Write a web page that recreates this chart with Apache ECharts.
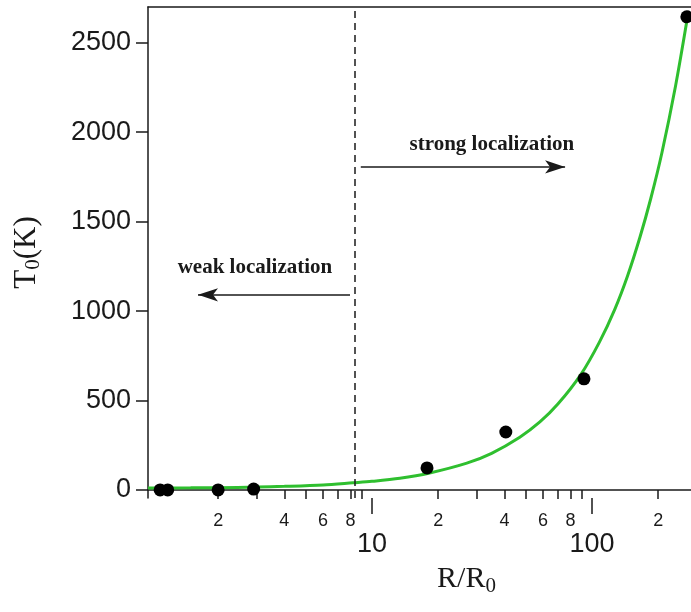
<!DOCTYPE html>
<html>
<head>
<meta charset="utf-8">
<script src="https://cdn.jsdelivr.net/npm/echarts@6/dist/echarts.min.js"></script>
<style>
  html, body { margin: 0; padding: 0; background: #fff; }
  #chart { width: 691px; height: 612px; }
</style>
</head>
<body>
<div id="chart"></div>
<script>
// Measured points: T0 against normalised resistance R/R0
const pointR = [1.09, 1.18, 2.0, 2.9, 17.8, 40.6, 92, 270];
const pointT = [0, 0, 0, 5, 123, 324, 621, 2645];

// Fitted curve, sampled along R/R0
const fitR = [0.96, 1.5, 2, 3, 4, 6, 8.2, 10, 13.4, 18.3, 27, 35, 47, 58, 70, 89, 108, 127, 145, 165, 185, 208, 240, 272];
const fitT = [11, 12, 13, 16, 20, 28, 40, 48, 65, 95, 150, 205, 295, 380, 480, 645, 825, 1010, 1195, 1410, 1628, 1885, 2260, 2645];

// Axis ticks and labels
const yTicks = [0, 500, 1000, 1500, 2000, 2500];
const xMinorTicks = [2, 3, 4, 5, 6, 7, 8, 9, 20, 30, 40, 50, 60, 70, 80, 90, 200];
const xMinorLabels = [2, 4, 6, 8, 20, 40, 60, 80, 200];
const xMajorTicks = [10, 100];

// Regime boundary and annotations
const boundaryR = 8.37;
const strongArrow = [[8.9, 1806], [75.5, 1806]];
const weakArrow = [[7.95, 1091], [1.62, 1091]];
const strongLabel = { text: 'strong localization', at: [35.1, 1930] };
const weakLabel = { text: 'weak localization', at: [2.94, 1242] };

const ink = '#1a1a1a';
const sans = '"Liberation Sans", Arial, sans-serif';
const serif = '"Liberation Serif", "Times New Roman", serif';

const chart = echarts.init(document.getElementById('chart'));

const xRange = { min: 0.96, max: 282 };

chart.setOption({
  animation: false,
  backgroundColor: '#fff',
  grid: { left: 148, top: 7, bottom: 114, right: 0, show: false },
  xAxis: [
    {
      type: 'log', logBase: 10, min: xRange.min, max: xRange.max,
      axisLine: { show: true, lineStyle: { color: ink, width: 1.5 } },
      axisTick: { show: true, customValues: xMinorTicks, length: 9, lineStyle: { color: ink, width: 1.5 } },
      axisLabel: {
        show: true, customValues: xMinorLabels, margin: 14, fontSize: 18,
        fontFamily: sans, color: ink, hideOverlap: false,
        formatter: v => String(Math.round(v)).charAt(0)
      },
      splitLine: { show: false }, minorTick: { show: false }
    },
    {
      type: 'log', logBase: 10, min: xRange.min, max: xRange.max,
      position: 'bottom',
      axisLine: { show: false },
      axisTick: { show: true, customValues: xMajorTicks, length: 16, lineStyle: { color: ink, width: 1.5 } },
      axisLabel: {
        show: true, customValues: xMajorTicks, margin: 33, fontSize: 27,
        fontFamily: sans, color: ink, formatter: v => String(Math.round(v))
      },
      splitLine: { show: false },
      name: '{t|R/R}{s|0}',
      nameLocation: 'middle',
      nameGap: 64,
      nameTextStyle: {
        padding: [0, 0, 0, 94],
        rich: {
          t: { fontFamily: serif, fontSize: 30, color: ink },
          s: { fontFamily: serif, fontSize: 21, color: ink, padding: [14, 0, 0, 0] }
        }
      }
    },
    {
      // frame line along the top of the plot
      type: 'log', logBase: 10, min: xRange.min, max: xRange.max,
      position: 'top',
      axisLine: { show: true, lineStyle: { color: ink, width: 1.5 } },
      axisTick: { show: false },
      axisLabel: { show: false },
      splitLine: { show: false }
    }
  ],
  yAxis: {
    type: 'value', min: -45, max: 2700,
    axisLine: { show: true, lineStyle: { color: ink, width: 1.5 } },
    axisTick: { show: true, customValues: yTicks, length: 12, lineStyle: { color: ink, width: 1.5 } },
    axisLabel: {
      show: true, customValues: yTicks, margin: 17, fontSize: 27, fontFamily: sans, color: ink,
      formatter: v => String(v)
    },
    splitLine: { show: false },
    name: '{t|T}{s|0}{t|(K)}',
    nameLocation: 'middle',
    nameRotate: 90,
    nameGap: 104,
    nameTextStyle: {
      rich: {
        t: { fontFamily: serif, fontSize: 31, color: ink },
        s: { fontFamily: serif, fontSize: 21, color: ink, padding: [14, 0, 0, 0] }
      }
    }
  },
  series: [
    {
      name: 'fit',
      type: 'line',
      data: fitR.map((r, i) => [r, fitT[i]]),
      smooth: 0.3,
      showSymbol: false,
      lineStyle: { color: '#2fbf2f', width: 3 },
      z: 2
    },
    {
      name: 'measured',
      type: 'scatter',
      data: pointR.map((r, i) => [r, pointT[i]]),
      symbolSize: 13,
      itemStyle: { color: '#000', opacity: 1 },
      z: 3,
      markLine: {
        silent: true,
        animation: false,
        label: { show: false },
        data: [
          [
            { coord: [boundaryR, -45], symbol: 'none' },
            { coord: [boundaryR, 2700], symbol: 'none', lineStyle: { type: [7, 5], width: 1.5, color: ink } }
          ],
          [
            { coord: strongArrow[0], symbol: 'none' },
            { coord: strongArrow[1], symbol: 'arrow', symbolSize: [10, 20], lineStyle: { type: 'solid', width: 1.5, color: ink } }
          ],
          [
            { coord: weakArrow[0], symbol: 'none' },
            { coord: weakArrow[1], symbol: 'arrow', symbolSize: [10, 20], lineStyle: { type: 'solid', width: 1.5, color: ink } }
          ]
        ],
        lineStyle: { color: ink, width: 1.5, type: 'solid' },
        itemStyle: { color: ink }
      },
      markPoint: {
        silent: true,
        symbolSize: 0,
        data: [strongLabel, weakLabel].map(a => ({
          coord: a.at,
          label: {
            show: true, position: 'inside', formatter: a.text,
            fontFamily: serif, fontWeight: 'bold', fontSize: 21, color: ink
          }
        }))
      }
    }
  ]
});
</script>
</body>
</html>
